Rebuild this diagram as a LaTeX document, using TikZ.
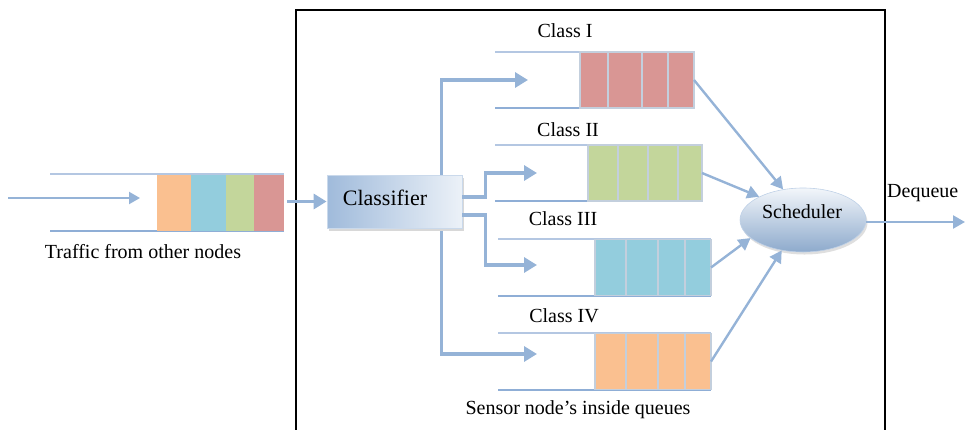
\documentclass[tikz,border=0pt]{standalone}
\usepackage{fontspec}
\setmainfont{Liberation Serif}
\usetikzlibrary{arrows.meta,shadows,shapes.geometric}
\definecolor{arr}{HTML}{95B3D7}
\definecolor{qline}{HTML}{B4C7E2}
\definecolor{qlineb}{HTML}{8FAED6}
\definecolor{cellline}{HTML}{C3CFDD}
\definecolor{qred}{HTML}{D99694}
\definecolor{qgreen}{HTML}{C3D69B}
\definecolor{qblue}{HTML}{93CDDD}
\definecolor{qorange}{HTML}{FAC090}
\begin{document}
\begin{tikzpicture}[x=1pt,y=-1pt,font=\fontsize{20}{23}\selectfont,
  bigarrow/.style={draw=arr,line width=3.2pt,-{Triangle[length=13pt,width=15pt]}},
  medarrow/.style={draw=arr,line width=2.4pt,-{Triangle[length=12pt,width=13pt]}},
  thinarrow/.style={draw=arr,line width=2.2pt,-{Triangle[length=11pt,width=12pt]}},
  cell/.style={minimum height=56pt,inner sep=0pt,outer sep=0pt},
  celledge/.style={draw=cellline,line width=1.2pt},
  qtop/.style={draw=qline,line width=1.6pt},
  qbot/.style={draw=qlineb,line width=2.6pt},
  lbl/.style={inner sep=0pt},
  classbox/.style={draw=arr!50,line width=0.8pt,left color=arr!90,right color=arr!18,
    minimum width=135pt,minimum height=53pt,inner sep=0pt,
    drop shadow={shadow xshift=2pt,shadow yshift=-2.5pt,fill=black!30}},
  sched/.style={ellipse,draw=arr!60,line width=0.6pt,top color=arr!12,bottom color=arr!95!black,
    minimum width=126pt,minimum height=64pt,inner sep=0pt,
    drop shadow={shadow xshift=1.5pt,shadow yshift=-2.5pt,fill=black!25}}]
\useasboundingbox (0,0) rectangle (966,429);

% frame
\draw[line width=1.4pt] (296,435) -- (296,10) -- (885,10) -- (885,435);

% input queue
\draw[qtop] (50,174) -- (284,174);
\draw[qbot] (50,231) -- (284,231);
\foreach \a/\b/\n/\c in {157/191/1/qorange,191/226/2/qblue,226/254/3/qgreen,254/284/4/qred}
  \node[cell,fill=\c,minimum width={\b-\a}] (i\n) at ({(\a+\b)/2},202.5) {};
\coordinate (in0) at (8,198);
\coordinate (in1) at (140,198);
\draw[thinarrow] (in0) -- (in1);
\node[lbl] (tin) at (143,252) {Traffic from other nodes};

% class queues
\draw[qtop] (495,52) -- (694,52);
\draw[qbot] (495,108) -- (694,108);
\foreach \a/\b/\n in {580/608/1,608/642/2,642/668/3,668/694/4}
  \node[cell,fill=qred,minimum width={\b-\a}] (qa\n) at ({(\a+\b)/2},80) {};
\draw[qtop] (495,145) -- (702,145);
\draw[qbot] (495,201) -- (702,201);
\foreach \a/\b/\n in {588/618/1,618/648/2,648/678/3,678/702/4}
  \node[cell,fill=qgreen,minimum width={\b-\a}] (qb\n) at ({(\a+\b)/2},173) {};
\draw[qtop] (498,239) -- (711,239);
\draw[qbot] (498,296) -- (711,296);
\foreach \a/\b/\n in {595/626/1,626/658/2,658/685/3,685/711/4}
  \node[cell,fill=qblue,minimum width={\b-\a}] (qc\n) at ({(\a+\b)/2},267.5) {};
\draw[qtop] (498,333) -- (711,333);
\draw[qbot] (498,390) -- (711,390);
\foreach \a/\b/\n in {595/626/1,626/658/2,658/685/3,685/711/4}
  \node[cell,fill=qorange,minimum width={\b-\a}] (qd\n) at ({(\a+\b)/2},361.5) {};
% cell outlines drawn after all fills
\foreach \q in {qa,qb,qc,qd}
  \foreach \n in {1,...,4}
    \draw[celledge] (\q\n.north west) rectangle (\q\n.south east);

\node[lbl] (l1) at (565,31) {Class I};
\node[lbl] (l2) at (568,130) {Class II};
\node[lbl] (l3) at (563,219) {Class III};
\node[lbl] (l4) at (564,316) {Class IV};
\node[lbl] (lsq) at (578,410) {Sensor node’s inside queues};

% classifier
\node[classbox] (cls) at (394.5,201.5) {};
\node[lbl,font=\fontsize{22}{25}\selectfont] (clst) at (385,198) {Classifier};
\draw[bigarrow,shorten <=3pt] (i4.east |- cls.west) -- (cls.west);

\coordinate (a1) at (528,80);
\coordinate (a2) at (537,173);
\coordinate (a3) at (537,265);
\coordinate (a4) at (537,354);
\draw[bigarrow] ([xshift=115pt]cls.north west) |- (a1);
\draw[bigarrow] ([yshift=4.5pt]cls.east) -- ++(23,0) |- (a2);
\draw[bigarrow] ([yshift=-13.5pt]cls.east) -- ++(23,0) |- (a3);
\draw[bigarrow] ([xshift=115pt,yshift=-3pt]cls.south west) |- (a4);

% scheduler
\node[sched] (sch) at (803,220) {};
\node[lbl] (scht) at (802,212) {Scheduler};
\draw[medarrow] (qa4.east) -- (sch.123);
\draw[medarrow] (qb4.east) -- (sch.152);
\draw[medarrow] (qc4.east) -- (sch.199);
\draw[medarrow] (qd4.east) -- (sch.235);

\coordinate (dq) at (965,222);
\draw[medarrow] (sch.east |- dq) -- (dq);
\node[lbl,anchor=west] (ldq) at (887,193) {Dequeue};
\end{tikzpicture}
\end{document}
